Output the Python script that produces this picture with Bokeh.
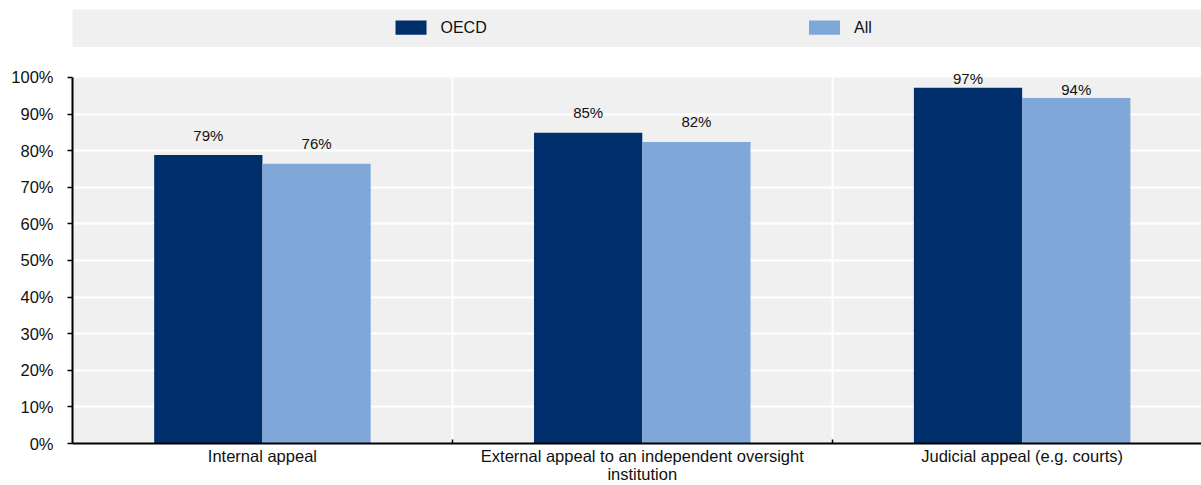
from bokeh.plotting import figure
from bokeh.layouts import column
from bokeh.models import Range1d, FixedTicker, PrintfTickFormatter
from bokeh.core.properties import value
from bokeh.embed import file_html
from bokeh.resources import INLINE

# ---- data -------------------------------------------------------------
categories = [
    "Internal appeal",
    "External appeal to an independent oversight\ninstitution",
    "Judicial appeal (e.g. courts)",
]
series_names = ["OECD", "All"]
oecd_values = [78.8, 84.9, 97.2]
all_values = [76.4, 82.4, 94.4]
y_ticks = [0, 10, 20, 30, 40, 50, 60, 70, 80, 90, 100]

# ---- style ------------------------------------------------------------
FONT = "Liberation Sans"
OECD_COLOR = "#002F6C"
ALL_COLOR = "#7FA8D9"
BG = "#F0F0F0"
TEXT = "#111111"
AXIS_FONT_SIZE = "16.5px"

PPU = 3.67                    # px per percentage point
HEADROOM = 9                  # px of white space above 100% for labels
FRAME_H = round(100 * PPU) + HEADROOM
CAT_PX = 381.2                # px per category
BORDER_L = 68
FRAME_W = 1201 - BORDER_L
BAR_W = 0.285                 # bar width in category units

# ---- legend strip -----------------------------------------------------
leg = figure(width=1201, height=47, x_range=Range1d(0, 1129), y_range=Range1d(0, 38),
             x_axis_type=None, y_axis_type=None, toolbar_location=None,
             output_backend="svg", min_border_left=72, min_border_right=0,
             min_border_top=9, min_border_bottom=0, background_fill_color=BG,
             border_fill_color="white", outline_line_color=None)
leg.grid.visible = False
leg_x0, leg_pitch = 338.5, 413.5
for i, (name, col) in enumerate(zip(series_names, [OECD_COLOR, ALL_COLOR])):
    cx = leg_x0 + i * leg_pitch
    leg.rect(x=[cx], y=[19.8], width=31, height=14.3, fill_color=col, line_color=None)
    leg.text(x=[cx + 29.5], y=[19.6], text=[name], text_font=value(FONT),
             text_font_size="16px", text_color=TEXT, text_baseline="middle",
             text_align="left")

# ---- main chart -------------------------------------------------------
x_end = FRAME_W / CAT_PX
y_end = FRAME_H / PPU
p = figure(width=1201, height=438, x_range=Range1d(0, x_end),
           y_range=Range1d(0, y_end), toolbar_location=None, output_backend="svg",
           min_border_left=BORDER_L, min_border_right=0, min_border_top=30 - HEADROOM,
           min_border_bottom=41, background_fill_color="white",
           border_fill_color="white", outline_line_color=None)

# grey plotting area from 0% to 100%
p.quad(left=[0], right=[x_end], bottom=[0], top=[100], fill_color=BG,
       line_color=None, level="image")

centers = [i + 0.5 for i in range(len(categories))]
x_oecd = [c - BAR_W / 2 for c in centers]
x_all = [c + BAR_W / 2 for c in centers]

p.vbar(x=x_oecd, top=oecd_values, bottom=0, width=BAR_W,
       fill_color=OECD_COLOR, line_color=None)
p.vbar(x=x_all, top=all_values, bottom=0, width=BAR_W,
       fill_color=ALL_COLOR, line_color=None)

# grid
p.ygrid.ticker = FixedTicker(ticks=y_ticks[1:-1])
p.ygrid.grid_line_color = "white"
p.ygrid.grid_line_width = 2
p.xgrid.ticker = FixedTicker(ticks=[1, 2])
p.xgrid.grid_line_color = "white"
p.xgrid.grid_line_width = 2

# y axis
ya = p.yaxis[0]
ya.bounds = (0, 100)
ya.ticker = FixedTicker(ticks=y_ticks, minor_ticks=[])
ya.formatter = PrintfTickFormatter(format="%d%%")
ya.major_label_text_font = FONT
ya.major_label_text_font_size = AXIS_FONT_SIZE
ya.major_label_text_color = TEXT
ya.major_label_standoff = 14
ya.major_tick_out = 5
ya.major_tick_in = 0
ya.major_tick_line_width = 1.5
ya.major_tick_line_color = "black"
ya.axis_line_width = 2
ya.axis_line_color = "black"

# x axis: category names, with small separators between categories
xa = p.xaxis[0]
xa.ticker = FixedTicker(ticks=centers, minor_ticks=[1, 2])
xa.major_label_overrides = {c: name for c, name in zip(centers, categories)}
xa.major_label_text_font = FONT
xa.major_label_text_font_size = AXIS_FONT_SIZE
xa.major_label_text_color = TEXT
xa.major_label_text_line_height = 1.0
xa.major_label_standoff = 3
xa.major_tick_in = 0
xa.major_tick_out = 0
xa.minor_tick_in = 4
xa.minor_tick_out = 0
xa.minor_tick_line_color = "black"
xa.minor_tick_line_width = 1.5
xa.axis_line_width = 2
xa.axis_line_color = "black"

# value labels above the bars; a group whose labels would rise past the
# top of the grey area is nudged down as a whole
lab_x, lab_y, lab_t = [], [], []
gap = 20 / PPU
for i in range(len(categories)):
    shift = max(0.0, max(oecd_values[i], all_values[i]) + gap - 99.6)
    for xv, v in ((x_oecd[i], oecd_values[i]), (x_all[i], all_values[i])):
        lab_x.append(xv)
        lab_y.append(v + gap - shift)
        lab_t.append(f"{round(v)}%")
p.text(x=lab_x, y=lab_y, text=lab_t, text_font=value(FONT), text_font_size="15px",
       text_color=TEXT, text_align="center", text_baseline="middle")

layout = column(leg, p, spacing=0)
open("out.html", "w").write(file_html(layout, INLINE))
